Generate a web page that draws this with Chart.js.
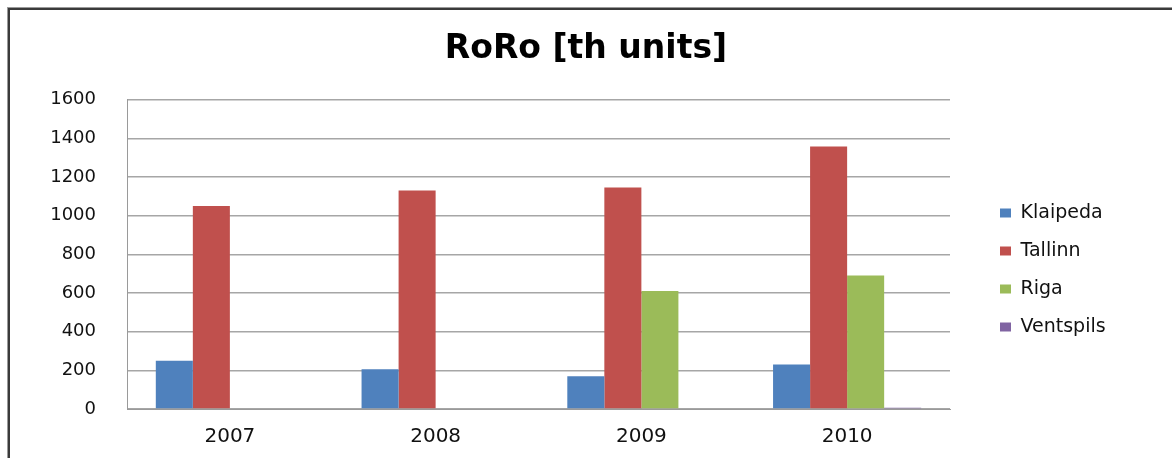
<!DOCTYPE html>
<html>
<head>
<meta charset="utf-8">
<script src="https://cdn.jsdelivr.net/npm/chart.js@4.4.0/dist/chart.umd.min.js"></script>
<style>
  html, body { margin: 0; padding: 0; background: #fff; }
  #wrap { position: relative; width: 1172px; height: 458px; overflow: hidden; }
  #frame { position: absolute; left: 8px; top: 8px; width: 1200px; height: 500px;
           border-left: 2px solid #3a3a3a; border-top: 2px solid #3a3a3a;
           box-shadow: -1px -1px 0 #9a9a9a; }
  canvas { position: absolute; left: 0; top: 0; }
</style>
</head>
<body>
<div id="wrap">
  <div id="frame"></div>
  <canvas id="roro" width="1172" height="458"></canvas>
</div>
<script>
// データ
const years = ["2007", "2008", "2009", "2010"];
const klaipeda = [250, 205, 170, 230];
const tallinn = [1050, 1130, 1145, 1358];
const riga = [0, 0, 610, 690];
const ventspils = [0, 0, 0, 6];
const yTicks = [0, 200, 400, 600, 800, 1000, 1200, 1400, 1600];

// 凡例の幅を固定する
const legendWidth = {
    id: "legendWidth",
    beforeInit(chart) {
        const fit = chart.legend.fit;
        chart.legend.fit = function () {
            fit.call(this);
            this.width = 191;
        };
    }
};

const ctx = document.getElementById("roro").getContext("2d");
new Chart(ctx, {
    type: "bar",
    data: {
        labels: years,
        datasets: [
            { label: "Klaipeda", data: klaipeda, backgroundColor: "#4f81bd" },
            { label: "Tallinn", data: tallinn, backgroundColor: "#c0504d" },
            { label: "Riga", data: riga, backgroundColor: "#9bbb59" },
            { label: "Ventspils", data: ventspils, backgroundColor: "#8064a2" }
        ]
    },
    options: {
        responsive: false,
        animation: false,
        layout: { padding: { left: 0, right: 0, top: 10, bottom: 0 } },
        datasets: { bar: { categoryPercentage: 0.72, barPercentage: 1.0, borderWidth: 0 } },
        scales: {
            x: {
                grid: { display: false },
                border: { color: "#9a9a9a", width: 1 },
                afterFit: (s) => { s.height = 49; },
                ticks: { color: "#111", padding: 8, font: { family: "DejaVu Sans", size: 20 } }
            },
            y: {
                min: 0, max: 1600,
                afterBuildTicks: (s) => { s.ticks = yTicks.map(v => ({ value: v })); },
                afterFit: (s) => { s.width = 127; },
                grid: { color: "#a6a6a6", lineWidth: 1.5, drawTicks: false },
                border: { color: "#9a9a9a", width: 1 },
                ticks: {
                    color: "#111", padding: 31,
                    font: { family: "DejaVu Sans", size: 18 },
                    callback: (v) => String(v)
                }
            },
            gap: {
                position: "right",
                display: true,
                grid: { display: false },
                border: { display: false },
                ticks: { display: false },
                afterFit: (s) => { s.width = 31; }
            }
        },
        plugins: {
            title: {
                display: true,
                text: "RoRo [th units]",
                color: "#000",
                font: { family: "DejaVu Sans", size: 33, weight: "bold" },
                padding: { top: 20, bottom: 30 }
            },
            legend: {
                position: "right",
                title: { display: true, text: "", font: { size: 10 }, padding: 30 },
                labels: {
                    boxWidth: 11, boxHeight: 9, padding: 19,
                    color: "#111",
                    font: { family: "DejaVu Sans", size: 19 }
                }
            },
            tooltip: { enabled: false }
        }
    },
    plugins: [legendWidth]
});
</script>
</body>
</html>
